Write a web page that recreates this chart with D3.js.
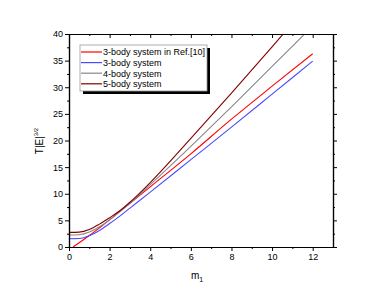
<!DOCTYPE html>
<html>
<head>
<meta charset="utf-8">
<script src="https://cdn.jsdelivr.net/npm/d3@7"></script>
<style>
  body { margin: 0; background: #fff; }
  svg { display: block; font-family: Arial, "Liberation Sans", sans-serif; }
</style>
</head>
<body>
<div id="chart"></div>
<script>
const mValues = [0, 0.5, 1, 1.5, 2, 2.5, 3, 4, 6, 8, 10, 12];

const ref10 = [null, 0.8, 2.15, 3.6, 5.1, 6.7, 8.2, 11.3, 17.5, 24.0, 30.2, 36.3];
const body3 = [1.56, 1.6, 2.1, 3.1, 4.4, 5.8, 7.3, 10.3, 16.4, 22.5, 28.7, 34.9];
const body4 = [2.25, 2.3, 2.8, 3.8, 5.1, 6.6, 8.2, 11.7, 18.9, 26.3, 33.9, 41.5];
const body5 = [2.75, 2.8, 3.3, 4.3, 5.5, 6.8, 8.4, 12.1, 20.4, 28.9, 37.6, 46.4];

const seriesNames = ["3-body system in Ref.[10]", "3-body system", "4-body system", "5-body system"];
const seriesColors = ["#ff0000", "#4a4aff", "#888888", "#800000"];

const xTicks = [0, 2, 4, 6, 8, 10, 12];
const yTicks = [0, 5, 10, 15, 20, 25, 30, 35, 40];

const width = 386, height = 296;
const margin = { top: 34, right: 53, bottom: 49, left: 69 };
const w = width - margin.left - margin.right;
const h = height - margin.top - margin.bottom;

const svg = d3.select("#chart").append("svg")
  .attr("width", width)
  .attr("height", height);

const x = d3.scaleLinear().domain([0, 13]).range([0, w]);
const y = d3.scaleLinear().domain([0, 40]).range([h, 0]);

const chart = svg.append("g")
  .attr("transform", `translate(${margin.left},${margin.top})`);

chart.append("clipPath").attr("id", "clip")
  .append("rect").attr("width", w).attr("height", h);

// series data, red line of Ref.[10] starts at m = 0.2
const allSeries = [ref10, body3, body4, body5].map((vals, i) => {
  const pts = mValues.map((m, j) => ({ m: m, v: vals[j] })).filter(d => d.v !== null);
  if (i === 0) pts.unshift({ m: 0.2, v: 0 });
  return { name: seriesNames[i], color: seriesColors[i], values: pts };
});

const line = d3.line()
  .x(d => x(d.m))
  .y(d => y(d.v))
  .curve(d3.curveMonotoneX);

chart.append("g").attr("clip-path", "url(#clip)")
  .selectAll("path")
  .data(allSeries)
  .enter()
  .append("path")
  .attr("fill", "none")
  .attr("stroke", d => d.color)
  .attr("stroke-width", 1.1)
  .attr("d", d => line(d.values));

// axes
const styleAxis = g => {
  g.select(".domain").attr("stroke", "#000").attr("stroke-width", 1.2);
  g.selectAll(".tick line").attr("stroke", "#000");
  g.selectAll("text").attr("font-size", "9px").attr("fill", "#000")
    .attr("font-family", "Arial, 'Liberation Sans', sans-serif");
};

const minorX = d3.range(1, 13, 2);
const minorY = d3.range(2.5, 40, 5);

chart.append("g")
  .attr("transform", `translate(0,${h})`)
  .call(d3.axisBottom(x).tickValues(xTicks).tickSize(4).tickSizeOuter(0).tickPadding(3))
  .call(styleAxis);
chart.append("g")
  .attr("transform", `translate(0,${h})`)
  .call(d3.axisBottom(x).tickValues(minorX).tickSize(2).tickSizeOuter(0).tickFormat(""))
  .call(styleAxis);

chart.append("g")
  .call(d3.axisLeft(y).tickValues(yTicks).tickSize(4).tickSizeOuter(0).tickPadding(2))
  .call(styleAxis);
chart.append("g")
  .call(d3.axisLeft(y).tickValues(minorY).tickSize(2).tickSizeOuter(0).tickFormat(""))
  .call(styleAxis);

chart.append("g")
  .call(d3.axisTop(x).tickValues(xTicks).tickSize(-4).tickSizeOuter(0).tickFormat(""))
  .call(styleAxis);
chart.append("g")
  .call(d3.axisTop(x).tickValues(minorX).tickSize(-2).tickSizeOuter(0).tickFormat(""))
  .call(styleAxis);

chart.append("g")
  .attr("transform", `translate(${w},0)`)
  .call(d3.axisRight(y).tickValues(yTicks).tickSize(4).tickSizeOuter(0).tickFormat(""))
  .call(styleAxis);
chart.append("g")
  .attr("transform", `translate(${w},0)`)
  .call(d3.axisRight(y).tickValues(minorY).tickSize(2).tickSizeOuter(0).tickFormat(""))
  .call(styleAxis);

// axis titles
const xTitle = svg.append("text")
  .attr("x", 197)
  .attr("y", 279)
  .attr("text-anchor", "middle")
  .attr("font-size", "10px");
xTitle.append("tspan").text("m");
xTitle.append("tspan").attr("font-size", "7px").attr("dy", 3).text("1");

const yTitle = svg.append("text")
  .attr("transform", "translate(43,141) rotate(-90)")
  .attr("text-anchor", "middle")
  .attr("font-size", "10px");
yTitle.append("tspan").text("T|E|");
yTitle.append("tspan").attr("font-size", "6px").attr("dy", -5).text("3/2");

// legend
const legend = svg.append("g").attr("transform", "translate(80,45)");
legend.append("rect")
  .attr("x", 3).attr("y", 3)
  .attr("width", 127).attr("height", 46)
  .attr("fill", "#000");
legend.append("rect")
  .attr("x", 0).attr("y", 0)
  .attr("width", 127).attr("height", 46)
  .attr("fill", "#fff")
  .attr("stroke", "#999")
  .attr("stroke-width", 0.8);

const rows = legend.selectAll(".row")
  .data(allSeries)
  .enter()
  .append("g")
  .attr("transform", (d, i) => `translate(0,${7 + i * 10.6})`);
rows.append("line")
  .attr("x1", 1).attr("x2", 22)
  .attr("stroke", d => d.color)
  .attr("stroke-width", 1.2);
rows.append("text")
  .attr("x", 23)
  .attr("y", 3.3)
  .attr("font-size", "9px")
  .text(d => d.name);
</script>
</body>
</html>
